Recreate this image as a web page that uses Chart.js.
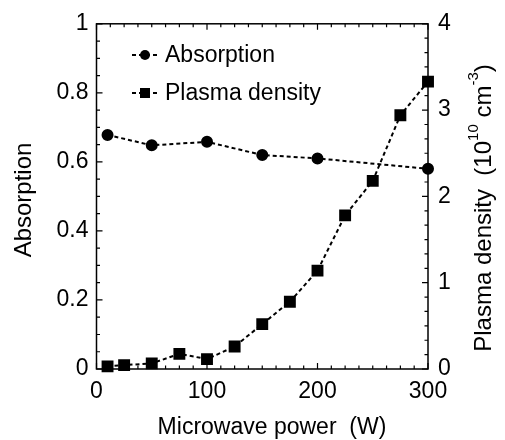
<!DOCTYPE html>
<html>
<head>
<meta charset="utf-8">
<script src="https://cdn.jsdelivr.net/npm/chart.js@4.4.0/dist/chart.umd.min.js"></script>
<style>
  body { margin: 0; background: #fff; }
</style>
</head>
<body>
<canvas id="chart" width="505" height="440"></canvas>
<script>
const absPower = [10, 50, 100, 150, 200, 300];
const absorption = [0.678, 0.648, 0.658, 0.62, 0.61, 0.58];

const densPower = [10, 25, 50, 75, 100, 125, 150, 175, 200, 225, 250, 275, 300];
const density = [0.03, 0.045, 0.065, 0.175, 0.115, 0.26, 0.52, 0.78, 1.14, 1.78, 2.18, 2.94, 3.33];

const seriesLabels = ["Absorption", "Plasma density"];
const xTitle = "Microwave power  (W)";
const yTitle = "Absorption";
const y2TitleParts = [
  { text: "Plasma density  (10", sup: false },
  { text: "10", sup: true },
  { text: " cm", sup: false },
  { text: "-3", sup: true },
  { text: ")", sup: false },
];

const FONT = "'Liberation Sans', Arial, sans-serif";
Chart.defaults.color = "#000";
Chart.defaults.font.family = FONT;

const toPoints = (xs, ys) => xs.map((x, i) => ({ x: x, y: ys[i] }));
const plainNum = (v) => String(Number(v.toFixed(2)));

// inward ticks on all four sides + the box
const frameTicks = {
  id: "frameTicks",
  afterDraw(chart) {
    const { ctx, chartArea: a } = chart;
    const x = chart.scales.x, y = chart.scales.y, y2 = chart.scales.y2;
    ctx.save();
    ctx.strokeStyle = "#000";
    ctx.lineWidth = 1.5;
    ctx.strokeRect(a.left, a.top, a.right - a.left, a.bottom - a.top);
    ctx.lineWidth = 1.2;
    ctx.beginPath();
    for (let i = 0; i <= 24; i++) {
      const px = x.getPixelForValue(i * 12.5);
      const len = i % 8 === 0 ? 6 : 3.5;
      ctx.moveTo(px, a.bottom); ctx.lineTo(px, a.bottom - len);
      ctx.moveTo(px, a.top); ctx.lineTo(px, a.top + len);
    }
    for (let i = 0; i <= 20; i++) {
      const py = y.getPixelForValue(i * 0.05);
      const len = i % 4 === 0 ? 6 : 3.5;
      ctx.moveTo(a.left, py); ctx.lineTo(a.left + len, py);
    }
    for (let i = 0; i <= 24; i++) {
      const py = y2.getPixelForValue(i / 6);
      const len = i % 6 === 0 ? 6 : 3.5;
      ctx.moveTo(a.right, py); ctx.lineTo(a.right - len, py);
    }
    ctx.stroke();
    ctx.restore();
  },
};

// legend drawn as "--marker--  label"
const lineLegend = {
  id: "lineLegend",
  afterDraw(chart) {
    const { ctx } = chart;
    const rows = [55, 93];
    ctx.save();
    chart.data.datasets.forEach((ds, i) => {
      const yy = rows[i];
      ctx.strokeStyle = "#000";
      ctx.lineWidth = 2;
      ctx.setLineDash([4, 3]);
      ctx.beginPath();
      ctx.moveTo(132, yy); ctx.lineTo(160, yy);
      ctx.stroke();
      ctx.setLineDash([]);
      ctx.fillStyle = "#000";
      if (ds.pointStyle === "rect") {
        ctx.fillRect(145 - 5, yy - 5, 10, 10);
      } else {
        ctx.beginPath();
        ctx.arc(145, yy, 5, 0, Math.PI * 2);
        ctx.fill();
      }
      ctx.font = "23px " + FONT;
      ctx.textBaseline = "middle";
      ctx.textAlign = "left";
      ctx.fillText(ds.label, 165, yy + 1);
    });
    ctx.restore();
  },
};

// axis titles (right one with superscripts)
const axisTitles = {
  id: "axisTitles",
  afterDraw(chart) {
    const { ctx } = chart;
    const big = "24px " + FONT, small = "15px " + FONT;
    ctx.save();
    ctx.fillStyle = "#000";
    ctx.textBaseline = "middle";

    ctx.font = "23px " + FONT;
    ctx.textAlign = "center";
    ctx.fillText(xTitle, 272, 428);

    ctx.save();
    ctx.translate(24, 200);
    ctx.rotate(-Math.PI / 2);
    ctx.font = big;
    ctx.fillText(yTitle, 0, 0);
    ctx.restore();

    let total = 0;
    y2TitleParts.forEach(p => {
      ctx.font = p.sup ? small : big;
      p.w = ctx.measureText(p.text).width;
      total += p.w;
    });
    ctx.translate(484, 208);
    ctx.rotate(-Math.PI / 2);
    ctx.textAlign = "left";
    let cx = -total / 2;
    y2TitleParts.forEach(p => {
      ctx.font = p.sup ? small : big;
      ctx.fillText(p.text, cx, p.sup ? -10 : 0);
      cx += p.w;
    });
    ctx.restore();
  },
};

new Chart(document.getElementById("chart"), {
  type: "line",
  data: {
    datasets: [
      {
        label: seriesLabels[0],
        data: toPoints(absPower, absorption),
        yAxisID: "y",
        borderColor: "#000",
        backgroundColor: "#000",
        borderWidth: 2,
        borderDash: [4, 3],
        pointStyle: "circle",
        pointRadius: 5,
        tension: 0,
        clip: false,
      },
      {
        label: seriesLabels[1],
        data: toPoints(densPower, density),
        yAxisID: "y2",
        borderColor: "#000",
        backgroundColor: "#000",
        borderWidth: 2,
        borderDash: [4, 3],
        pointStyle: "rect",
        pointRadius: 7,
        tension: 0,
        clip: false,
      },
    ],
  },
  options: {
    responsive: false,
    animation: false,
    layout: { padding: { top: 21, left: 0, right: 0, bottom: 0 } },
    plugins: { legend: { display: false }, tooltip: { enabled: false } },
    scales: {
      x: {
        type: "linear",
        min: 0,
        max: 300,
        grid: { display: false, drawTicks: false },
        border: { display: false },
        ticks: { stepSize: 100, padding: 9, font: { size: 23 }, maxRotation: 0, callback: plainNum },
        afterFit: (s) => { s.height = 71; },
      },
      y: {
        type: "linear",
        position: "left",
        min: 0,
        max: 1,
        grid: { display: false, drawTicks: false },
        border: { display: false },
        ticks: { stepSize: 0.2, padding: 8, font: { size: 23 }, callback: plainNum },
        afterFit: (s) => { s.width = 96.5; },
      },
      y2: {
        type: "linear",
        position: "right",
        min: 0,
        max: 4,
        grid: { display: false, drawTicks: false },
        border: { display: false },
        ticks: { stepSize: 1, padding: 10, font: { size: 23 }, callback: plainNum },
        afterFit: (s) => { s.width = 77; },
      },
    },
  },
  plugins: [frameTicks, lineLegend, axisTitles],
});
</script>
</body>
</html>
